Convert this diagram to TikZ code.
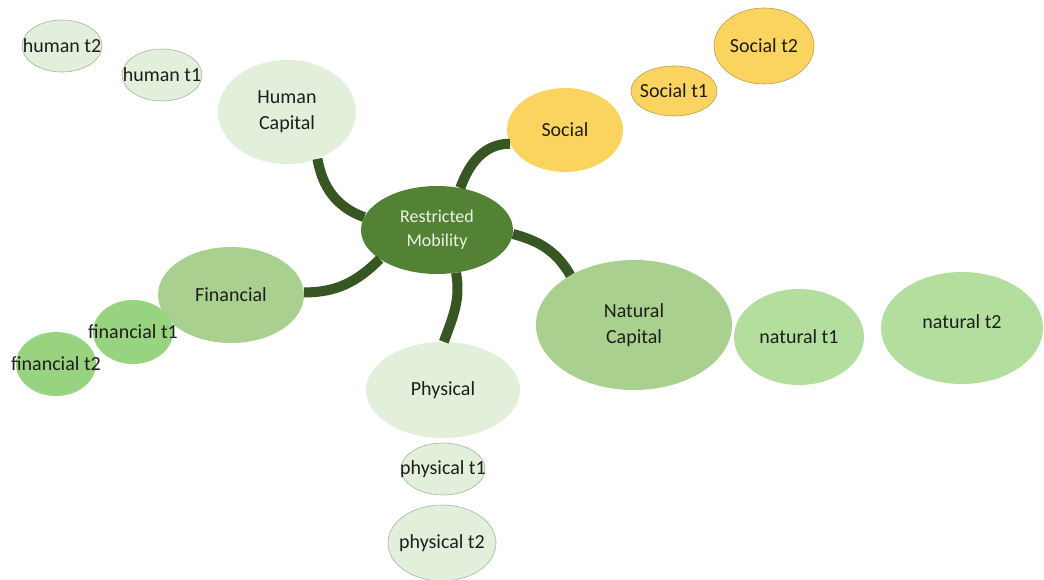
\documentclass[tikz,border=0pt]{standalone}
\usepackage{fontspec}
\setmainfont{Carlito}
\usetikzlibrary{shapes.geometric}
\definecolor{cgreen}{RGB}{84,130,53}
\definecolor{cdark}{RGB}{55,86,35}
\definecolor{clight}{RGB}{226,239,218}
\definecolor{cmid}{RGB}{169,208,142}
\definecolor{cfin}{RGB}{152,212,128}
\definecolor{cnat}{RGB}{180,222,158}
\definecolor{cyel}{RGB}{250,212,95}
\definecolor{ctxt}{RGB}{30,30,30}
\begin{document}
\begin{tikzpicture}[x=1pt,y=1pt,
  lbl/.style={align=center,text=ctxt,inner sep=0pt,font=\fontsize{20}{26}\selectfont},
  bub/.style 2 args={ellipse,inner sep=0pt,label={[lbl]center:{#2}},minimum width=#1},
  tbub/.style={draw=#1!75!black,line width=0.6pt},
  link/.style={draw=cdark,line width=10pt},
  ]
\useasboundingbox (0,0) rectangle (1044,-580);
% nodes
\node[ellipse,inner sep=0pt,fill=cgreen,minimum width=152pt,minimum height=88pt,
  label={[lbl,text=clight!70!white,font=\fontsize{18}{24}\selectfont]center:{Restricted\\Mobility}}] (rm) at (437,-230) {};
\node[bub={138pt}{Human\\Capital},fill=clight,minimum height=104pt] (hc) at (287,-112) {};
\node[bub={80pt}{human t1},tbub=clight,fill=clight,minimum height=52pt] (h1) at (162,-75) {};
\node[bub={80pt}{human t2},tbub=clight,fill=clight,minimum height=52pt] (h2) at (62,-46) {};
\node[bub={116pt}{Social},fill=cyel,minimum height=84pt] (so) at (565,-130) {};
\node[bub={86pt}{Social t1},tbub=cyel,fill=cyel,minimum height=50pt] (s1) at (674,-91) {};
\node[bub={100pt}{Social t2},tbub=cyel,fill=cyel,minimum height=76pt] (s2) at (764,-46) {};
\node[bub={146pt}{Financial},fill=cmid,minimum height=96pt] (fi) at (231,-295) {};
\node[bub={80pt}{financial t2},fill=cfin,minimum height=64pt] (f2) at (56,-364) {};
\node[bub={80pt}{financial t1},fill=cfin,minimum height=64pt] (f1) at (133,-332) {};
\node[bub={196pt}{Natural\\Capital},fill=cmid,minimum height=130pt] (nc) at (634,-325) {};
\node[bub={130pt}{natural t1},fill=cnat,minimum height=96pt] (n1) at (799,-337) {};
\node[bub={162pt}{\raisebox{12pt}{natural t2}},fill=cnat,minimum height=112pt] (n2) at (962,-328) {};
\node[bub={154pt}{Physical},fill=clight,minimum height=96pt] (ph) at (443,-390) {};
\node[bub={84pt}{physical t1},tbub=clight,fill=clight,minimum height=52pt] (p1) at (443,-469) {};
\node[bub={108pt}{physical t2},tbub=clight,fill=clight,minimum height=76pt] (p2) at (442,-543) {};
% connectors
\draw[link] (hc.-57) to[out=-80,in=160] (rm.170);
\draw[link] (so.194) to[out=180,in=70] (rm.61);
\draw[link] (fi.2) to[out=0,in=225] (rm.207);
\draw[link] (rm.-66) to[out=-80,in=70] (ph.89);
\draw[link] (rm.-3) to[out=-15,in=120] (nc.142);
\end{tikzpicture}
\end{document}
